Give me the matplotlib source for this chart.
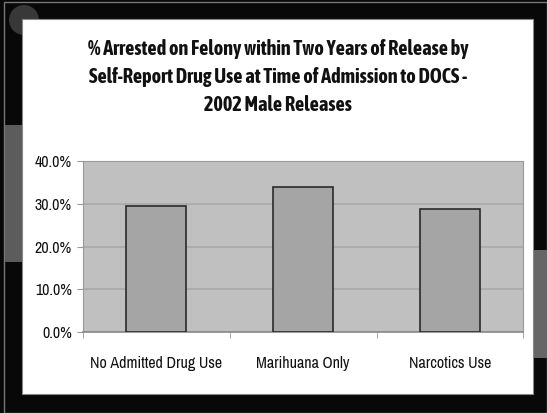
import matplotlib
matplotlib.use("Agg")
import matplotlib.pyplot as plt
from matplotlib.patches import Rectangle, Ellipse
from matplotlib.ticker import FuncFormatter

categories = ["No Admitted Drug Use", "Marihuana Only", "Narcotics Use"]
values = [29.6, 34.0, 28.9]
yticks = [0, 10, 20, 30, 40]
title = ("% Arrested on Felony within Two Years of Release by\n"
         "Self-Report Drug Use at Time of Admission to DOCS -\n"
         "2002 Male Releases")

narrow = ["Archivo Narrow", "Liberation Sans", "DejaVu Sans"]
narrow_bold = ["Asap Condensed", "Archivo Narrow", "Liberation Sans", "DejaVu Sans"]

W, H = 547, 413


def px_rect(x0, y0, x1, y1, **kw):
    # rectangle given in pixels from the top-left corner
    return Rectangle((x0 / W, 1 - y1 / H), (x1 - x0) / W, (y1 - y0) / H,
                     transform=fig.transFigure, **kw)


fig = plt.figure(figsize=(5.47, 4.13), dpi=100)
fig.patch.set_facecolor("#080808")

# slide background decorations
fig.patches.append(px_rect(4, 2, 547, 413, facecolor="none", edgecolor="#777777",
                           linewidth=1.0, zorder=-3))
fig.patches.append(Ellipse((24 / W, 1 - 20 / H), 30 / W, 30 / H, transform=fig.transFigure,
                           facecolor="#383838", edgecolor="none", zorder=-3))
fig.patches.append(px_rect(5, 125, 22, 262, facecolor="#5c5c5c", edgecolor="none", zorder=-3))
fig.patches.append(px_rect(533, 250, 547, 358, facecolor="#666666", edgecolor="none", zorder=-3))

# white chart panel
fig.patches.append(px_rect(22, 19, 533, 394, facecolor="white", edgecolor="#888888",
                           linewidth=0.8, zorder=-1))

fig.text(0.508, 0.814, title, ha="center", va="center", fontsize=14.6,
         fontweight="bold", family=narrow_bold, color="#111111", linespacing=1.5)

ax = fig.add_axes([0.1517, 0.196, 0.805, 0.414], zorder=2)
ax.set_facecolor("#c0c0c0")
x = range(len(categories))
ax.bar(x, values, width=0.41, color="#a5a5a5", edgecolor="#2a2a2a", linewidth=1.2, zorder=3)

ax.set_ylim(0, 40)
ax.set_xlim(-0.5, len(categories) - 0.5)
ax.set_yticks(yticks)
ax.yaxis.set_major_formatter(FuncFormatter(lambda v, p: "%.1f%%" % v))
ax.grid(axis="y", color="#a9a9a9", linewidth=1.2, zorder=1)

ax.set_xticks(list(x))
ax.set_xticklabels(categories)
ax.set_xticks([i - 0.5 for i in range(len(categories) + 1)], minor=True)
ax.tick_params(axis="x", which="major", length=0, pad=17)
ax.tick_params(axis="x", which="minor", length=4, color="#999999")
ax.tick_params(axis="y", length=4, color="#999999", pad=4)
for lab in ax.get_xticklabels() + ax.get_yticklabels():
    lab.set_family(narrow)
    lab.set_fontsize(11.5)
    lab.set_color("#111111")

for side in ["top", "right", "left"]:
    ax.spines[side].set_color("#999999")
ax.spines["bottom"].set_color("#888888")
ax.spines["bottom"].set_linewidth(1.2)

fig.savefig("out.png", dpi=100, facecolor=fig.get_facecolor())
